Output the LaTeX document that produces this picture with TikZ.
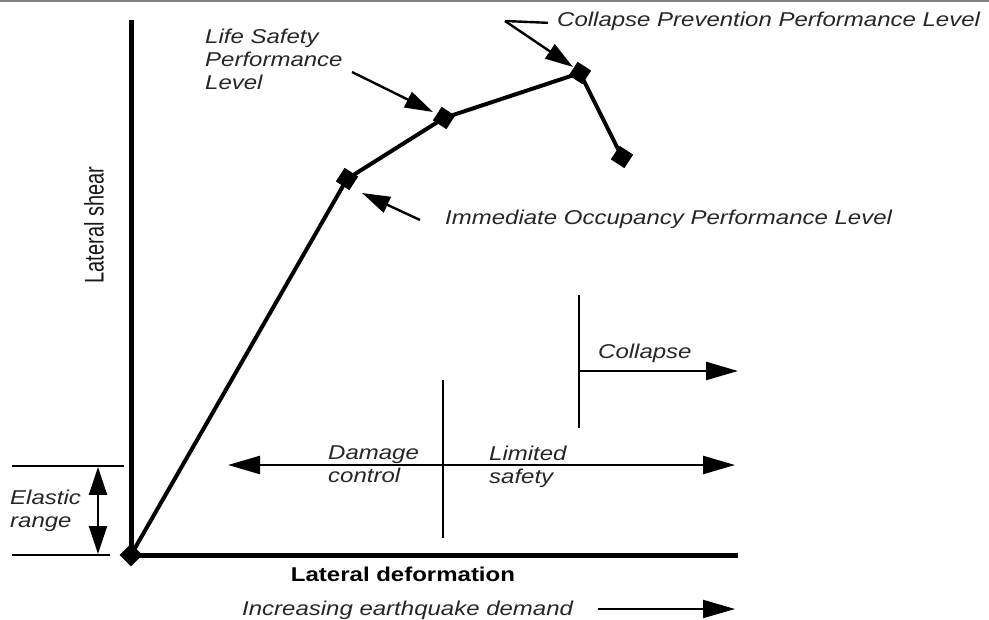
\documentclass[tikz,border=0pt]{standalone}
\usepackage{fontspec}
\setmainfont{Liberation Sans}[FakeStretch=1.2]
\newfontfamily\plainsans{Liberation Sans}
\usetikzlibrary{arrows.meta,shapes.geometric}
\begin{document}
\begin{tikzpicture}[x=1pt,y=-1pt,
  lbl/.style={font=\fontsize{20}{23}\selectfont\itshape, inner sep=0pt, text=black!85},
  pt/.style={diamond, fill=black, inner sep=0pt, minimum size=23pt},
  axisline/.style={line width=5pt},
  curveline/.style={line width=4pt, line join=round},
  thinline/.style={line width=2.4pt},
  ptr/.style={thinline, -{Triangle[length=28pt,width=17pt]}},
  bigtip/.style={-{Triangle[length=32pt,width=18pt]}},
  dbltip/.style={{Triangle[length=32pt,width=18pt]}-{Triangle[length=32pt,width=18pt]}},
  eltip/.style={{Triangle[length=28pt,width=18pt]}-{Triangle[length=28pt,width=18pt]}}
]
\useasboundingbox (0,0) rectangle (989,620);
\draw[gray, line width=2pt] (0,1) -- (989,1);

% axes
\coordinate (O) at (131,555);
\coordinate (YT) at (131,20);
\coordinate (XR) at (738,555);
\draw[axisline] (YT) -- (O |- XR) -- (XR);

% curve
\coordinate (c1) at (347,179);
\coordinate (c2) at (444,118);
\coordinate (c3) at (580,73);
\coordinate (c4) at (622,157);
\draw[curveline] (O) -- (c1) -- (c2) -- (c3) -- (c4);
\node[pt] (p0) at (O) {};
\node[pt, rotate=12] (p1) at (c1) {};
\node[pt, rotate=12] (p2) at (c2) {};
\node[pt, rotate=12] (p3) at (c3) {};
\node[pt, rotate=12] (p4) at (c4) {};

% performance level labels
\node[lbl, anchor=base west] (cp) at (557,27) {Collapse Prevention Performance Level};
\coordinate (cpk) at (505,21);
\coordinate (cptip) at (573,67);
\draw[thinline] (cp.west) ++(-9,1) coordinate (cps) -- (cpk);
\draw[ptr] (cpk) -- (cptip);

\node[lbl, align=left, anchor=north west] (ls) at (205,29) {Life Safety\\Performance\\Level};
\coordinate (lsa) at (352,72);
\coordinate (lstip) at (433,112);
\draw[ptr] (lsa) -- (lstip);

\node[lbl, anchor=base west] (io) at (445,225) {Immediate Occupancy Performance Level};
\coordinate (ioa) at (420,220);
\coordinate (iotip) at (362,193);
\draw[ptr] (ioa) -- (iotip);

% axis titles
\node[font=\plainsans\fontsize{20}{24}\selectfont, rotate=90, inner sep=0pt, text=black!90] (ylab) at (94,225) {\scalebox{1}[1.35]{Lateral shear}};
\node[font=\fontsize{20}{24}\selectfont\bfseries, inner sep=0pt, anchor=base] (xlab) at (403,581) {Lateral deformation};

% elastic range
\coordinate (e1a) at (12,466); \coordinate (e1b) at (124,466);
\coordinate (e2a) at (12,555); \coordinate (e2b) at (110,555);
\draw[line width=2pt] (e1a) -- (e1b);
\draw[line width=2pt] (e2a) -- (e2b);
\coordinate (ea) at (98,467); \coordinate (eb) at (98,554);
\draw[thinline, eltip] (ea) -- (eb);
\node[lbl, align=left, anchor=north west] (el) at (10,490) {Elastic\\range};

% damage control / limited safety
\coordinate (v1t) at (443,380); \coordinate (v1b) at (443,538);
\draw[thinline] (v1t) -- (v1b);
\coordinate (h1l) at (228,465); \coordinate (h1r) at (735,465);
\draw[thinline, dbltip] (h1l) -- (h1r);
\node[lbl, align=left, anchor=north west] (dc) at (328,446) {Damage\\control};
\node[lbl, align=left, anchor=north west] (lsf) at (489,446) {Limited\\safety};

% collapse
\coordinate (v2t) at (579,295); \coordinate (v2b) at (579,428);
\draw[thinline] (v2t) -- (v2b);
\coordinate (h2l) at (579,371); \coordinate (h2r) at (738,371);
\draw[thinline, bigtip] (h2l) -- (h2r);
\node[lbl, anchor=base west] (col) at (598,359) {Collapse};

% demand
\node[lbl, anchor=base west] (inc) at (242,615) {Increasing earthquake demand};
\coordinate (ia) at (598,609); \coordinate (ib) at (735,609);
\draw[line width=2pt, bigtip] (ia) -- (ib);
\end{tikzpicture}
\end{document}
